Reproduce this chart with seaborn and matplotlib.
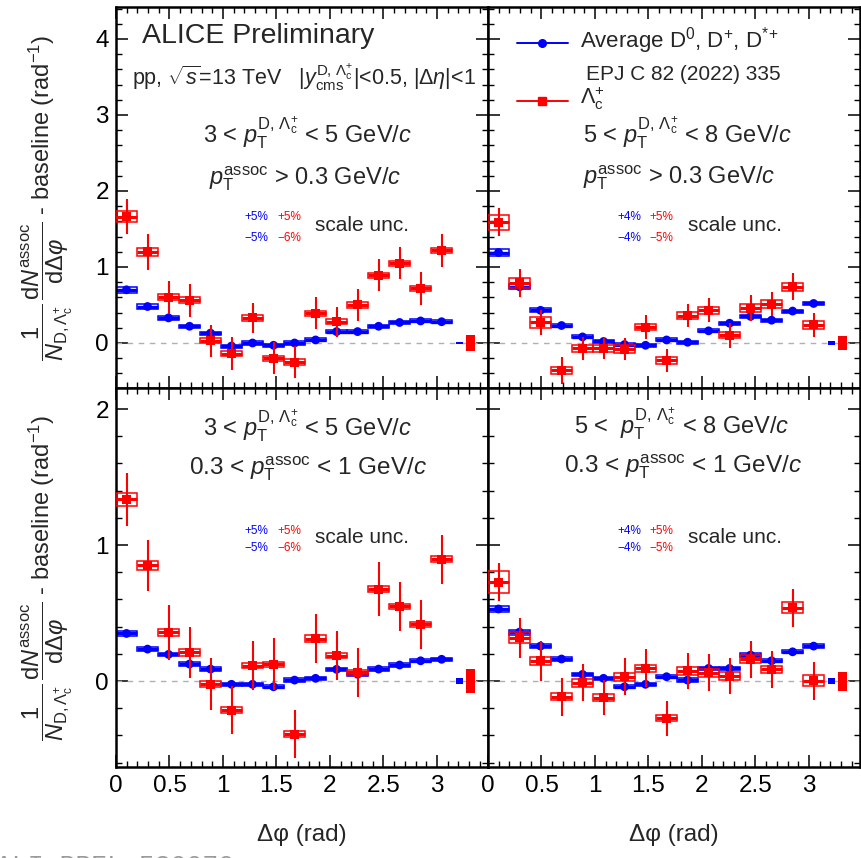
import numpy as np
import pandas as pd
import matplotlib
matplotlib.use("Agg")
import matplotlib.pyplot as plt
from matplotlib.patches import Rectangle
from matplotlib.ticker import MultipleLocator, FuncFormatter
import seaborn as sns

# Delta-phi binning (16 bins over [0, pi])
dphi_edges = np.linspace(0.0, np.pi, 17)
dphi = 0.5 * (dphi_edges[1:] + dphi_edges[:-1])
half_width = 0.5 * np.diff(dphi_edges)

# 3 < pT < 5 GeV/c, pT(assoc) > 0.3 GeV/c
d_35_all = [0.70, 0.48, 0.33, 0.22, 0.13, -0.04, 0.00, -0.03, 0.00, 0.04, 0.15, 0.15, 0.22, 0.27, 0.29, 0.28]
d_35_all_stat = [0.02] * 16
d_35_all_syst = [0.04, 0.03, 0.025, 0.02, 0.02, 0.02, 0.02, 0.02, 0.02, 0.02, 0.02, 0.02, 0.02, 0.02, 0.02, 0.02]
lc_35_all = [1.66, 1.20, 0.60, 0.56, 0.03, -0.14, 0.33, -0.20, -0.25, 0.39, 0.28, 0.50, 0.89, 1.05, 0.72, 1.22]
lc_35_all_stat = [0.23, 0.24, 0.22, 0.22, 0.21, 0.22, 0.20, 0.21, 0.21, 0.21, 0.20, 0.21, 0.21, 0.21, 0.22, 0.22]
lc_35_all_syst = [0.07, 0.055, 0.04, 0.04, 0.035, 0.035, 0.035, 0.035, 0.035, 0.035, 0.035, 0.035, 0.035, 0.035, 0.035, 0.035]

# 5 < pT < 8 GeV/c, pT(assoc) > 0.3 GeV/c
d_58_all = [1.19, 0.74, 0.43, 0.23, 0.08, 0.02, -0.02, -0.03, 0.04, 0.01, 0.16, 0.26, 0.35, 0.30, 0.42, 0.52]
d_58_all_stat = [0.02] * 16
d_58_all_syst = [0.04, 0.03, 0.025, 0.02, 0.02, 0.02, 0.02, 0.02, 0.02, 0.02, 0.02, 0.02, 0.02, 0.02, 0.02, 0.02]
lc_58_all = [1.59, 0.79, 0.27, -0.36, -0.07, -0.07, -0.08, 0.21, -0.23, 0.36, 0.43, 0.10, 0.46, 0.51, 0.74, 0.24]
lc_58_all_stat = [0.18, 0.18, 0.16, 0.18, 0.15, 0.14, 0.15, 0.16, 0.15, 0.15, 0.16, 0.16, 0.17, 0.16, 0.18, 0.16]
lc_58_all_syst = [0.10, 0.066, 0.07, 0.05, 0.05, 0.05, 0.05, 0.04, 0.04, 0.05, 0.05, 0.04, 0.05, 0.05, 0.05, 0.05]

# 3 < pT < 5 GeV/c, 0.3 < pT(assoc) < 1 GeV/c
d_35_low = [0.35, 0.235, 0.196, 0.125, 0.088, -0.024, -0.024, -0.042, 0.007, 0.02, 0.086, 0.05, 0.088, 0.118, 0.149, 0.16]
d_35_low_stat = [0.012] * 16
d_35_low_syst = [0.02, 0.015, 0.012, 0.012, 0.012, 0.012, 0.012, 0.012, 0.012, 0.012, 0.012, 0.012, 0.012, 0.012, 0.012, 0.012]
lc_35_low = [1.336, 0.85, 0.358, 0.21, -0.022, -0.213, 0.113, 0.123, -0.39, 0.31, 0.186, 0.064, 0.676, 0.55, 0.417, 0.897]
lc_35_low_stat = [0.196, 0.19, 0.20, 0.19, 0.19, 0.18, 0.18, 0.19, 0.175, 0.18, 0.18, 0.18, 0.20, 0.18, 0.18, 0.18]
lc_35_low_syst = [0.05, 0.035, 0.025, 0.025, 0.02, 0.02, 0.02, 0.02, 0.02, 0.025, 0.02, 0.02, 0.02, 0.02, 0.02, 0.02]

# 5 < pT < 8 GeV/c, 0.3 < pT(assoc) < 1 GeV/c
d_58_low = [0.53, 0.36, 0.257, 0.162, 0.049, 0.02, -0.042, -0.024, 0.032, 0.007, 0.093, 0.093, 0.191, 0.149, 0.215, 0.257]
d_58_low_stat = [0.012] * 16
d_58_low_syst = [0.02, 0.018, 0.012, 0.012, 0.012, 0.012, 0.012, 0.012, 0.012, 0.012, 0.012, 0.012, 0.012, 0.012, 0.012, 0.012]
lc_58_low = [0.726, 0.318, 0.149, -0.115, -0.012, -0.123, 0.032, 0.093, -0.274, 0.074, 0.061, 0.037, 0.16, 0.086, 0.539, 0.002]
lc_58_low_stat = [0.14, 0.147, 0.147, 0.14, 0.135, 0.13, 0.135, 0.14, 0.13, 0.13, 0.135, 0.135, 0.137, 0.135, 0.14, 0.14]
lc_58_low_syst = [0.08, 0.04, 0.03, 0.027, 0.03, 0.025, 0.028, 0.027, 0.022, 0.027, 0.028, 0.028, 0.03, 0.025, 0.04, 0.04]

# baseline uncertainties (D average, Lambda_c) per panel
baseline_unc_d = [0.015, 0.02, 0.02, 0.02]
baseline_unc_lc = [0.11, 0.09, 0.09, 0.07]

# scale uncertainty labels
scale_d = [("+5%", "\u22125%"), ("+4%", "\u22124%"), ("+5%", "\u22125%"), ("+4%", "\u22124%")]
scale_lc = [("+5%", "\u22126%"), ("+5%", "\u22125%"), ("+5%", "\u22126%"), ("+5%", "\u22125%")]

BLUE = "#0000ff"
RED = "#ff0000"

sns.set_theme(style="ticks")
plt.rcParams.update({
    "font.family": ["Liberation Sans", "DejaVu Sans"],
    "mathtext.fontset": "custom",
    "mathtext.rm": "Liberation Sans",
    "mathtext.it": "Liberation Sans:italic",
    "mathtext.bf": "Liberation Sans:bold",
    "mathtext.sf": "Liberation Sans",
    "axes.linewidth": 1.8,
    "axes.edgecolor": "black",
    "xtick.direction": "in",
    "ytick.direction": "in",
    "xtick.top": True,
    "ytick.right": True,
    "xtick.color": "black",
    "ytick.color": "black",
})

W, H = 862, 858
fig = plt.figure(figsize=(W / 100, H / 100), dpi=100)
fig.patch.set_facecolor("white")


def add_axes_px(x0, y0, x1, y1):
    return fig.add_axes([x0 / W, 1 - y1 / H, (x1 - x0) / W, (y1 - y0) / H])


XMAX = 3.477
panels = [
    dict(box=(116, 7, 488, 388), ylim=(-0.592, 4.42),
         d=(d_35_all, d_35_all_stat, d_35_all_syst), lc=(lc_35_all, lc_35_all_stat, lc_35_all_syst)),
    dict(box=(488, 7, 860, 388), ylim=(-0.592, 4.42),
         d=(d_58_all, d_58_all_stat, d_58_all_syst), lc=(lc_58_all, lc_58_all_stat, lc_58_all_syst)),
    dict(box=(116, 388, 488, 767), ylim=(-0.632, 2.155),
         d=(d_35_low, d_35_low_stat, d_35_low_syst), lc=(lc_35_low, lc_35_low_stat, lc_35_low_syst)),
    dict(box=(488, 388, 860, 767), ylim=(-0.632, 2.155),
         d=(d_58_low, d_58_low_stat, d_58_low_syst), lc=(lc_58_low, lc_58_low_stat, lc_58_low_syst)),
]


def draw_series(ax, vals, stat, syst, color, marker, size, hlw, vlw, z):
    df = pd.DataFrame({"dphi": dphi, "val": vals, "stat": stat, "syst": syst, "hw": half_width})
    for _, r in df.iterrows():
        ax.add_patch(Rectangle((r.dphi - r.hw, r.val - r.syst), 2 * r.hw, 2 * r.syst,
                               fill=False, edgecolor=color, lw=1.1, zorder=z))
    ax.errorbar(df.dphi, df.val, xerr=df.hw, fmt="none", ecolor=color,
                elinewidth=hlw, capsize=0, zorder=z + 0.1)
    ax.errorbar(df.dphi, df.val, yerr=df.stat, fmt="none", ecolor=color,
                elinewidth=vlw, capsize=0, zorder=z + 0.1)
    sns.scatterplot(data=df, x="dphi", y="val", ax=ax, marker=marker, s=size,
                    color=color, edgecolor="none", linewidth=0, legend=False, zorder=z + 0.2)


axes = []
for i, p in enumerate(panels):
    ax = add_axes_px(*p["box"])
    axes.append(ax)
    ax.set_xlim(0, XMAX)
    ax.set_ylim(*p["ylim"])
    ax.axhline(0, color="#b0b0b0", lw=1.0, ls=(0, (4, 4)), zorder=1)

    draw_series(ax, *p["d"], BLUE, "o", 40, 2.4, 1.2, 2)
    draw_series(ax, *p["lc"], RED, "s", 42, 2.2, 1.5, 3)

    # baseline uncertainty boxes
    ax.bar([3.215], [2 * baseline_unc_d[i]], bottom=[-baseline_unc_d[i]], width=0.065,
           color=BLUE, linewidth=0, zorder=4)
    ax.bar([3.31], [2 * baseline_unc_lc[i]], bottom=[-baseline_unc_lc[i]], width=0.085,
           color=RED, linewidth=0, zorder=4)

    ax.xaxis.set_major_locator(MultipleLocator(0.5))
    ax.xaxis.set_minor_locator(MultipleLocator(0.1))
    ax.yaxis.set_major_locator(MultipleLocator(1))
    ax.yaxis.set_minor_locator(MultipleLocator(0.2))
    ax.xaxis.set_major_formatter(FuncFormatter(lambda v, _: f"{v:g}"))
    ax.yaxis.set_major_formatter(FuncFormatter(lambda v, _: f"{v:g}"))
    ax.tick_params(which="major", length=8.5, width=1.1, labelsize=17.5, pad=6,
                   top=True, right=True, bottom=True, left=True)
    ax.tick_params(which="minor", length=4.3, width=1.0, top=True, right=True)
    ax.tick_params(axis="y", pad=5)
    ax.set_xlabel("")
    ax.set_ylabel("")
    if i < 2:
        ax.tick_params(labelbottom=False)
    if i % 2 == 1:
        ax.tick_params(labelleft=False)

    # scale uncertainty annotation
    sy = (0.449, 0.394) if i < 2 else (0.622, 0.578)
    bx = 0.345 if i % 2 == 0 else 0.347
    ax.text(bx, sy[0], scale_d[i][0], color=BLUE, fontsize=8.5, transform=ax.transAxes, ha="left", va="center")
    ax.text(bx, sy[1], scale_d[i][1], color=BLUE, fontsize=8.5, transform=ax.transAxes, ha="left", va="center")
    ax.text(bx + 0.088, sy[0], scale_lc[i][0], color=RED, fontsize=8.5, transform=ax.transAxes, ha="left", va="center")
    ax.text(bx + 0.088, sy[1], scale_lc[i][1], color=RED, fontsize=8.5, transform=ax.transAxes, ha="left", va="center")
    ax.text(bx + 0.19, 0.5 * (sy[0] + sy[1]) + 0.006, "scale unc.", fontsize=15,
            transform=ax.transAxes, ha="left", va="center")

pt_d = r"$p_{\mathrm{T}}^{\mathrm{D},\,\mathrm{Λ}_{\mathrm{c}}^{+}}$"
pt_a = r"$p_{\mathrm{T}}^{\mathrm{assoc}}$"

tl, tr, bl, br = axes
tl.text(0.07, 0.905, "ALICE Preliminary", fontsize=20.5, transform=tl.transAxes, ha="left", va="baseline")
tl.text(0.043, 0.795,
        r"pp, $\sqrt{s}$=13 TeV   $|y_{\mathrm{cms}}^{\mathrm{D},\,\mathrm{Λ}_{\mathrm{c}}^{+}}|$<0.5, $|\Delta\eta|$<1",
        fontsize=15.5, transform=tl.transAxes, ha="left", va="baseline")
tl.text(0.515, 0.646, "3 < " + pt_d + " < 5 GeV/$c$", fontsize=17, transform=tl.transAxes, ha="center", va="baseline")
tl.text(0.508, 0.533, pt_a + " > 0.3 GeV/$c$", fontsize=17, transform=tl.transAxes, ha="center", va="baseline")

tr.text(0.535, 0.645, "5 < " + pt_d + " < 8 GeV/$c$", fontsize=17, transform=tr.transAxes, ha="center", va="baseline")
tr.text(0.514, 0.538, pt_a + " > 0.3 GeV/$c$", fontsize=17, transform=tr.transAxes, ha="center", va="baseline")

bl.text(0.516, 0.876, "3 < " + pt_d + " < 5 GeV/$c$", fontsize=17, transform=bl.transAxes, ha="center", va="baseline")
bl.text(0.516, 0.773, "0.3 < " + pt_a + " < 1 GeV/$c$", fontsize=17.5, transform=bl.transAxes, ha="center", va="baseline")

br.text(0.521, 0.881, "5 <  " + pt_d + " < 8 GeV/$c$", fontsize=17, transform=br.transAxes, ha="center", va="baseline")
br.text(0.524, 0.776, "0.3 < " + pt_a + " < 1 GeV/$c$", fontsize=17.5, transform=br.transAxes, ha="center", va="baseline")

# legend keys
tr.plot([0.078, 0.215], [0.905, 0.905], transform=tr.transAxes, color=BLUE, lw=1.4, clip_on=False)
tr.plot([0.1465], [0.905], transform=tr.transAxes, color=BLUE, marker="o", ms=5.5, clip_on=False)
tr.plot([0.078, 0.215], [0.752, 0.752], transform=tr.transAxes, color=RED, lw=1.4, clip_on=False)
tr.plot([0.1465], [0.752], transform=tr.transAxes, color=RED, marker="s", ms=6, clip_on=False)
tr.text(0.247, 0.893, r"Average D$^{0}$, D$^{+}$, D$^{*\!+}$", fontsize=16, transform=tr.transAxes, ha="left", va="baseline")
tr.text(0.263, 0.808, "EPJ C 82 (2022) 335", fontsize=15, transform=tr.transAxes, ha="left", va="baseline")
tr.text(0.247, 0.745, r"$\mathrm{Λ}_{\mathrm{c}}^{+}$", fontsize=15.5, transform=tr.transAxes, ha="left", va="baseline")

# axis titles
ylab = (r"$\dfrac{1}{N_{\mathrm{D},\mathrm{Λ}_{\mathrm{c}}^{+}}}\,\dfrac{\mathrm{d}N^{\mathrm{assoc}}}{\mathrm{d}\Delta\varphi}$"
        r" - baseline (rad$^{-1}$)")
for (y0, y1) in [(7, 388), (388, 767)]:
    fig.text(47 / W, 1 - 0.5 * (y0 + y1) / H, ylab, rotation=90, fontsize=17, ha="center", va="center")
for (x0, x1) in [(116, 488), (488, 860)]:
    fig.text(0.5 * (x0 + x1) / W, 1 - 835 / H, "Δφ (rad)", fontsize=17.5, ha="center", va="center")

fig.text(-4 / W, 1 - 873 / H, "ALI-PREL-530070", fontsize=19, family="Liberation Mono",
         color="#9a9a9a", ha="left", va="baseline")

fig.savefig("out.png", dpi=100, facecolor="white")
